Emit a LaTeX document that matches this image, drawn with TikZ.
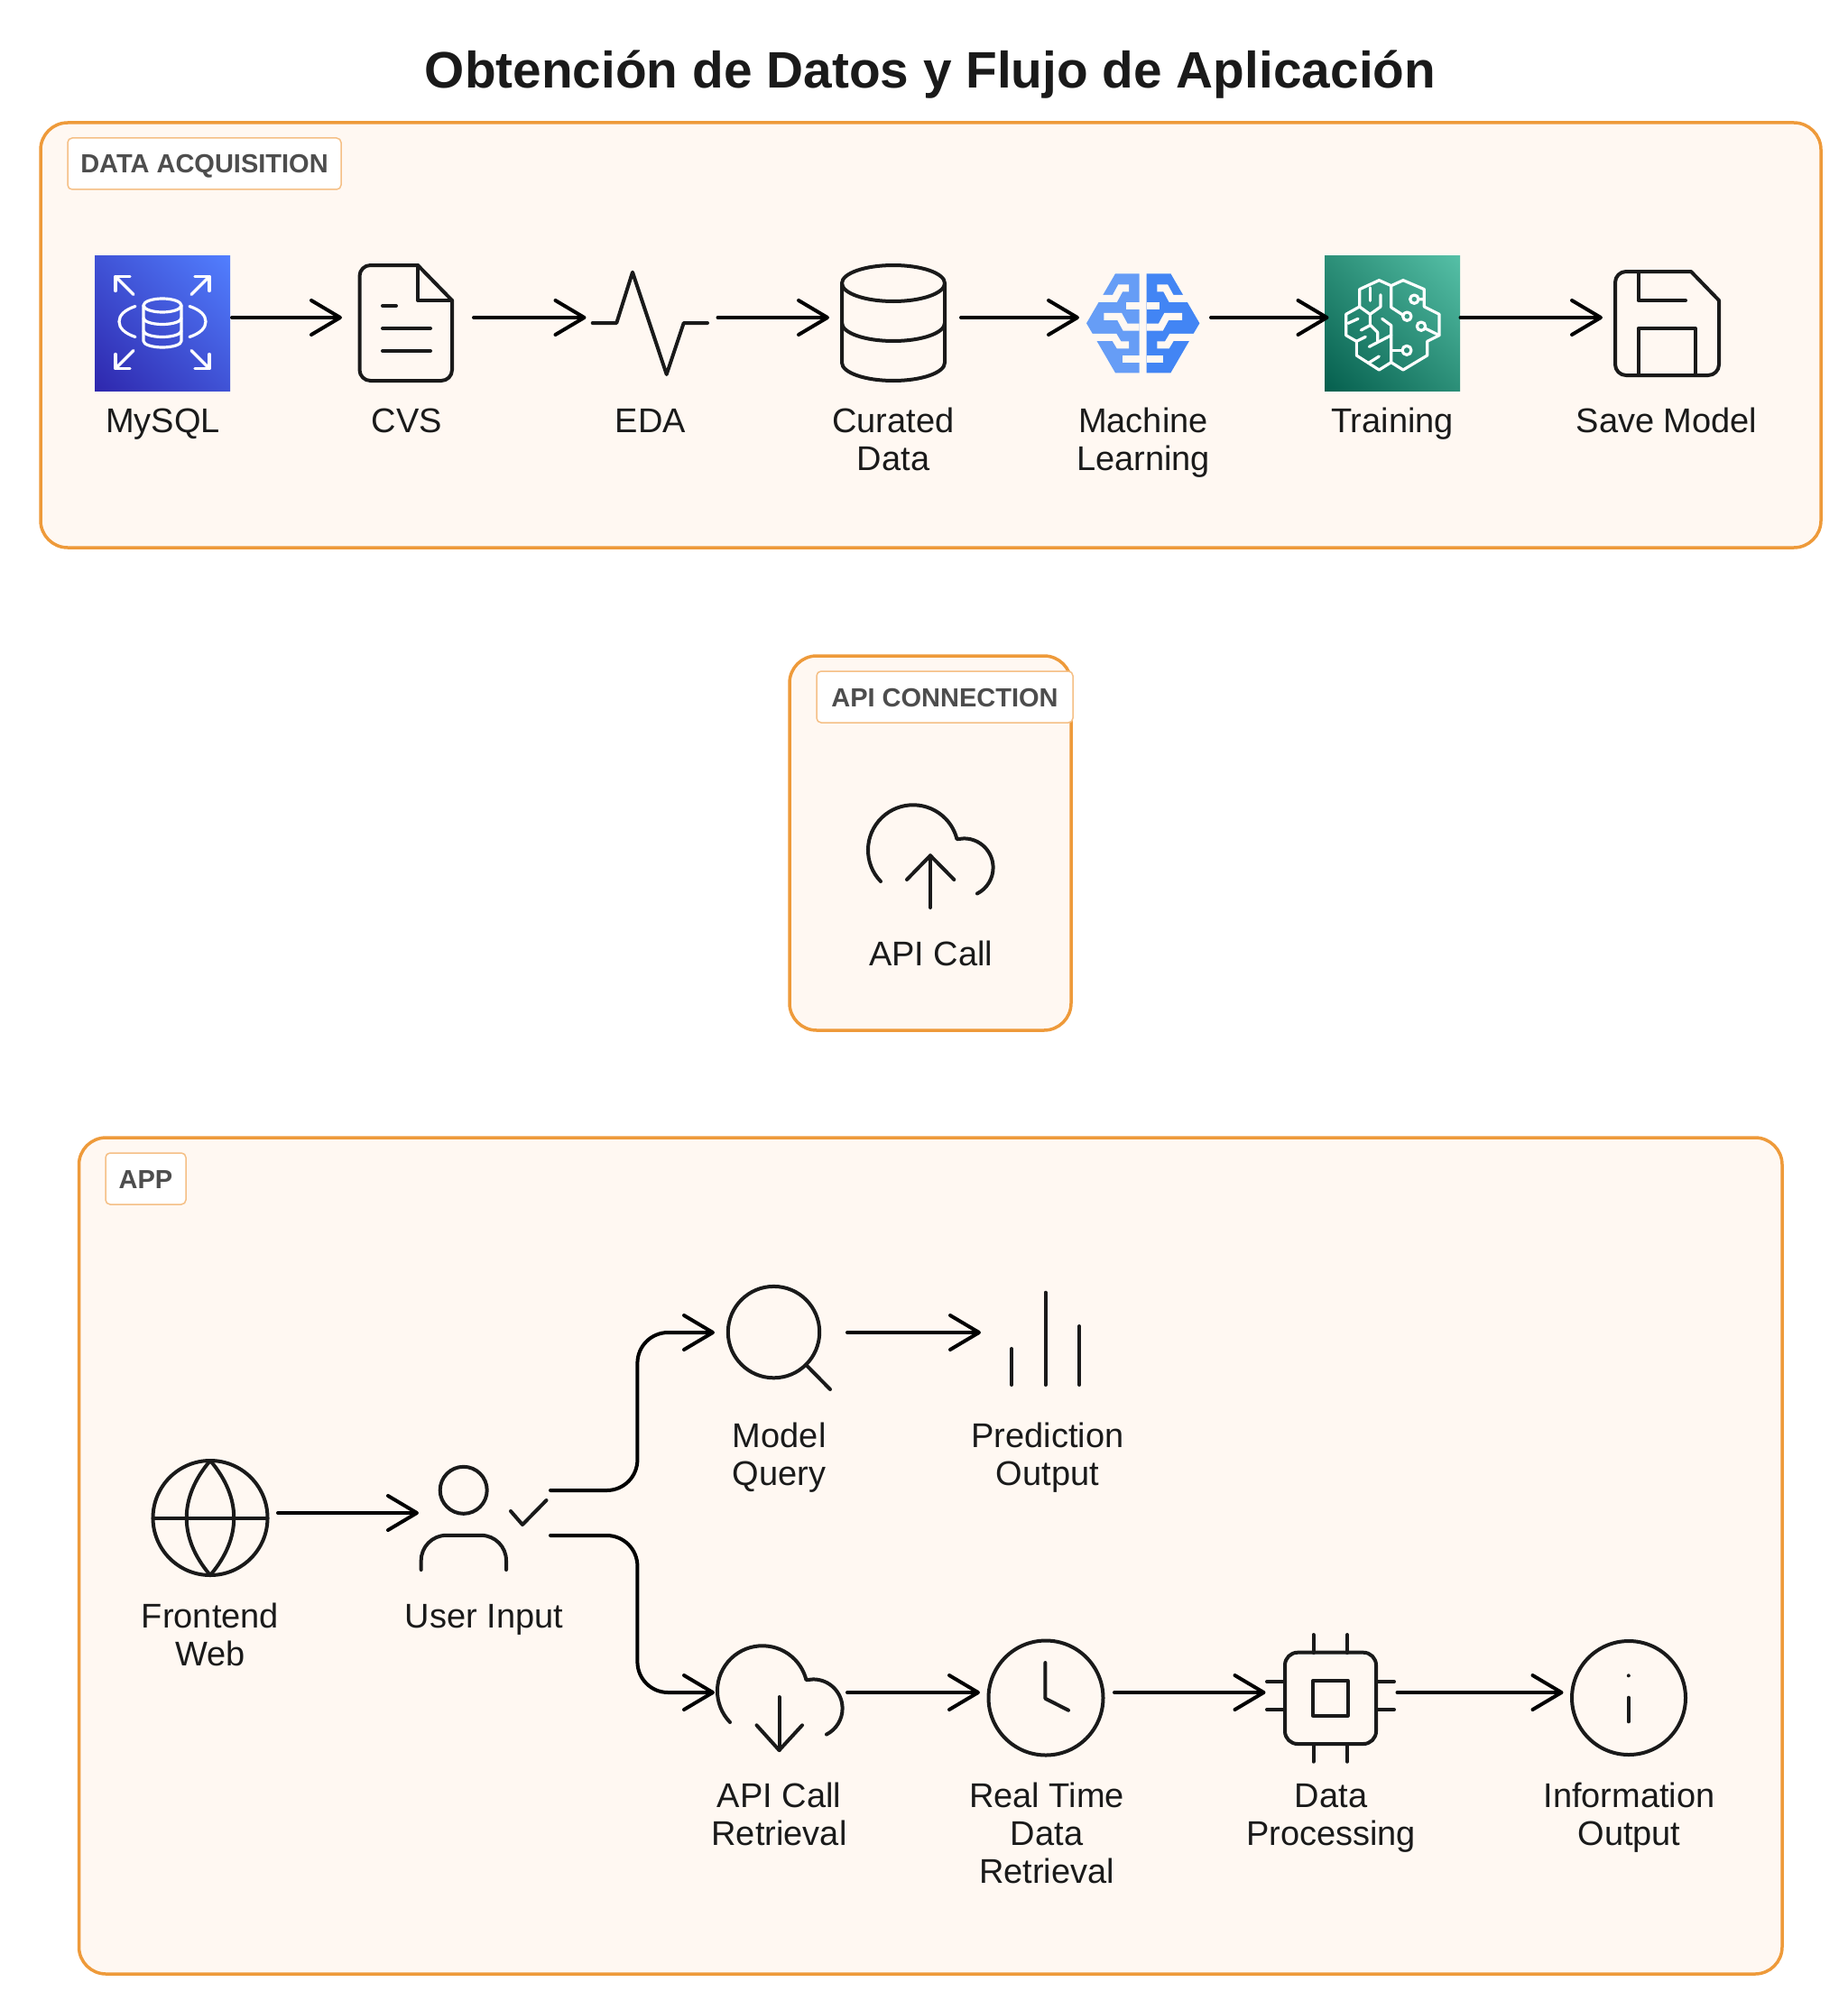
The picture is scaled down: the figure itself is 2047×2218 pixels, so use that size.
\documentclass[tikz,border=0pt]{standalone}
\usepackage{fontspec}
\setmainfont{Liberation Sans}
\usetikzlibrary{arrows.meta,shadings}
\definecolor{boxOrange}{HTML}{EE9A3A}
\definecolor{tagOrange}{HTML}{F5BF85}
\definecolor{boxFill}{HTML}{FFF8F2}
\definecolor{inkBlack}{HTML}{1A1A1A}
\definecolor{tagGray}{HTML}{4D4D4D}
\definecolor{rdsDark}{HTML}{2E27AD}
\definecolor{rdsMid}{HTML}{4053D6}
\definecolor{rdsLight}{HTML}{527FFF}
\definecolor{smDark}{HTML}{055F4E}
\definecolor{smMid}{HTML}{2C8F78}
\definecolor{smLight}{HTML}{56C0A7}
\definecolor{mlLeft}{HTML}{669DF6}
\definecolor{mlRight}{HTML}{4285F4}
\tikzset{group box/.style={draw=boxOrange,fill=boxFill,line width=3.5pt,rounded corners=30pt,inner sep=0pt}}
\tikzset{group tag/.style={draw=tagOrange,fill=white,line width=1.5pt,rounded corners=5pt,text=tagGray,
	font=\fontsize{29}{34}\selectfont\bfseries,minimum height=57pt,inner sep=0pt,text height=21pt,text depth=0pt}}
\tikzset{icon spot/.style={inner sep=0pt,outer sep=0pt,minimum width=146pt,minimum height=2pt}}
\tikzset{step label/.style={font=\fontsize{38}{42}\selectfont,text=inkBlack,align=center,anchor=base,inner sep=0pt}}
\tikzset{flow/.style={draw=black,line width=4pt,line cap=round,line join=round,shorten >=-2pt,shorten <=2pt,
	-{Straight Barb[length=32pt,width=38pt,round]}}}
\tikzset{glyph/.style={draw=inkBlack,line width=4pt,line cap=round,line join=round}}
\tikzset{thin glyph/.style={draw=white,line width=3.2pt,line cap=round,line join=round}}
\tikzset{cloud shell/.pic={
	\draw[glyph] (-35.7,34.7) arc[start angle=136,end angle=346,radius=50] -- (56.6,-12.9)
		arc[start angle=270,end angle=423,radius=32.3];
}}

\begin{document}
\begin{tikzpicture}[x=1pt,y=-1pt]
	\useasboundingbox (0,0) rectangle (2047,2218);
	\node[font=\fontsize{56.8}{60}\selectfont\bfseries,text=inkBlack,anchor=base,inner sep=0pt] (title) at (1031,98) {Obtención de Datos y Flujo de Aplicación};

	% the three groups
	\node[group box,minimum width=1973pt,minimum height=471pt] (acquisition) at (1031.5,371.5) {};
	\node[group box,minimum width=312pt,minimum height=415pt] (connection) at (1031,934.5) {};
	\node[group box,minimum width=1887.5pt,minimum height=927pt] (application) at (1031.25,1724.5) {};
	\node[group tag,minimum width=303pt] (tag_acquisition) at (226.5,181.5) {DATA ACQUISITION};
	\node[group tag,minimum width=284pt] (tag_connection) at (1047,772.5) {API CONNECTION};
	\node[group tag,minimum width=89pt] (tag_application) at (161.5,1306.5) {APP};

	% first row
	\node[icon spot,minimum width=150pt] (mysql) at (180,352) {};
	\node[icon spot] (cvs) at (450,352) {};
	\node[icon spot] (eda) at (720.5,352) {};
	\node[icon spot] (curated) at (990,352) {};
	\node[icon spot] (learning) at (1267,352) {};
	\node[icon spot] (training) at (1543.5,352) {};
	\node[icon spot] (save) at (1847,352) {};

	\shade[lower left=rdsDark,upper right=rdsLight,upper left=rdsMid,lower right=rdsMid] (105,283) rectangle (255,433);
	\begin{scope}[shift={(180,357.5)}]
		\draw[thin glyph] (0,-19) ellipse [x radius=21,y radius=7.5];
		\draw[thin glyph] (-21,-19) -- (-21,20.5) arc[start angle=180,end angle=0,x radius=21,y radius=7] -- (21,-19);
		\draw[thin glyph] (-21,-5) arc[start angle=180,end angle=0,x radius=21,y radius=7];
		\draw[thin glyph] (-21,9) arc[start angle=180,end angle=0,x radius=21,y radius=7];
		\foreach \sx/\sy in {1/1,1/-1,-1/1,-1/-1} {
			\begin{scope}[xscale=\sx,yscale=\sy]
				\draw[thin glyph] (32,-31) -- (52,-51);
				\draw[thin glyph] (52,-35) -- (52,-51) -- (36,-51);
			\end{scope}
		}
		\foreach \sx in {1,-1}
			\draw[thin glyph,xscale=\sx] (30,-18) .. controls (42,-14) and (48,-8) .. (48,-1) .. controls (48,6) and (42,12) .. (30,16);
	\end{scope}

	\draw[glyph] (463,294) [rounded corners=12pt] -- (398.5,294) -- (398.5,422) -- (501,422) [sharp corners] -- (501,333) -- cycle;
	\draw[glyph] (463,294) -- (463,333) -- (501,333);
	\draw[glyph] (424,339) -- (439,339);
	\draw[glyph] (424,364) -- (477,364);
	\draw[glyph] (424,389) -- (477,389);

	\draw[glyph] (656.7,358) -- (683.3,358) -- (701,301.7) -- (738.7,415) -- (757.7,358) -- (784,358);

	\draw[glyph] (990,314) ellipse [x radius=57,y radius=20];
	\draw[glyph] (933,314) -- (933,402) arc[start angle=180,end angle=0,x radius=57,y radius=20] -- (1047,314);
	\draw[glyph] (933,358) arc[start angle=180,end angle=0,x radius=57,y radius=20];

	\foreach \side/\tone in {1/mlLeft,-1/mlRight} {
		\begin{scope}[shift={(1266.7,358.3)},xscale=\side,scale=1/3]
			\fill[\tone] (-92,-165) -- (-12,-165) -- (-12,165) -- (-92,165) -- (-188,0) -- cycle;
			\draw[boxFill,line width=8pt] (-150,-82) -- (-94,-82) -- (-75,-117) -- (-47,-117);
			\draw[boxFill,line width=8pt] (-12,-58) -- (-55,-58);
			\draw[boxFill,line width=8pt] (-130,-22) -- (-78,-22) -- (-59,13) -- (-12,13);
			\draw[boxFill,line width=8pt] (-175,47) -- (-95,47) -- (-80,72) -- (-47,72);
			\draw[boxFill,line width=8pt] (-68,118) -- (-12,118);
		\end{scope}
	}

	\shade[lower left=smDark,upper right=smLight,upper left=smMid,lower right=smMid] (1468,283) rectangle (1618,433);
	\begin{scope}[shift={(1170,270)},scale=1/3]
		\draw[thin glyph] (1075,122) -- (1010,152) -- (1010,210) -- (965,235) -- (965,305) -- (1000,325) -- (1000,372) -- (1075,420)
			-- (1115,395) -- (1155,420) -- (1235,372) -- (1235,325) -- (1275,305) -- (1275,235) -- (1225,210) -- (1225,152) -- (1155,122) -- (1115,140) -- cycle;
		\draw[thin glyph] (1115,140) -- (1115,212) -- (1155,238);
		\draw[thin glyph] (1168,242) circle [radius=14];
		\draw[thin glyph] (1115,395) -- (1115,305) -- (1042,343);
		\draw[thin glyph] (1115,355) -- (1152,355);
		\draw[thin glyph] (1167,355) circle [radius=15];
		\draw[thin glyph] (1192,185) circle [radius=14] (1206,185) -- (1225,185);
		\draw[thin glyph] (1215,275) circle [radius=14] (1228,282) -- (1275,305);
		\draw[thin glyph] (1045,147) -- (1045,190);
		\draw[thin glyph] (1080,170) -- (1080,210) -- (1045,235) -- (1010,210);
		\draw[thin glyph] (1045,235) -- (1045,270) -- (1070,295) -- (1070,325);
		\draw[thin glyph] (1085,250) -- (1115,272) -- (1115,305);
		\draw[thin glyph] (1015,288) -- (1045,272);
		\draw[thin glyph] (972,265) -- (1005,250);
		\draw[thin glyph] (1000,325) -- (1030,310);
		\draw[thin glyph] (1075,375) -- (1040,397);
	\end{scope}

	\draw[glyph] (1874,301) [rounded corners=12pt] -- (1790,301) -- (1790,416) -- (1905,416) [sharp corners] -- (1905,333) -- cycle;
	\draw[glyph] (1815.5,301) -- (1815.5,333) -- (1868,333);
	\draw[glyph] (1815.5,416) -- (1815.5,364) -- (1879,364) -- (1879,416);

	\path (mysql) edge[flow] (cvs);
	\path (cvs) edge[flow] (eda);
	\path (eda) edge[flow] (curated);
	\path (curated) edge[flow] (learning);
	\path (learning) edge[flow] (training);
	\path (training) edge[flow] (save);

	\node[step label] (l_mysql) at (180.5,479) {MySQL};
	\node[step label] (l_cvs) at (451,479) {CVS};
	\node[step label] (l_eda) at (721,479) {EDA};
	\node[step label] (l_curated) at (990,521) {Curated\\Data};
	\node[step label] (l_learning) at (1267,521) {Machine\\Learning};
	\node[step label] (l_training) at (1543,479) {Training};
	\node[step label] (l_save) at (1847,479) {Save Model};

	% api call
	\pic at (1011.7,942.3) {cloud shell};
	\draw[glyph] (1031,1006) -- (1031,948.3);
	\draw[glyph] (1005,975) -- (1031,948.3) -- (1057.3,975);
	\node[step label] (l_apicall) at (1031.7,1070) {API Call};

	% app
	\node[icon spot] (frontend) at (233,1677) {};
	\node[icon spot] (user) at (535,1677) {};
	\node[icon spot,minimum width=147pt] (query) at (863.5,1477) {};
	\node[icon spot,minimum width=147pt] (prediction) at (1158.5,1477) {};
	\node[icon spot,minimum width=147pt] (retrieval) at (863.5,1876) {};
	\node[icon spot,minimum width=149pt] (clock) at (1158.5,1876) {};
	\node[icon spot] (chip) at (1473.5,1876) {};
	\node[icon spot] (info) at (1803.5,1876) {};

	\draw[glyph] (233,1682.5) circle [radius=63.5];
	\draw[glyph] (169.5,1682.5) -- (296.5,1682.5);
	\draw[glyph] (233,1619) .. controls (198,1660) and (198,1705) .. (233,1746);
	\draw[glyph] (233,1619) .. controls (268,1660) and (268,1705) .. (233,1746);

	\draw[glyph] (513.7,1651.8) circle [radius=26];
	\draw[glyph] (466.7,1740) [rounded corners=28pt] -- (466.7,1701.8) -- (561,1701.8) -- (561,1740);
	\draw[glyph] (566,1675) -- (579,1690) -- (605.5,1663);

	\draw[glyph] (857.5,1476.6) circle [radius=50.7];
	\draw[glyph] (894,1513.6) -- (920,1540);

	\draw[glyph] (1121,1495) -- (1121,1535);
	\draw[glyph] (1158.7,1432.7) -- (1158.7,1535);
	\draw[glyph] (1196,1470) -- (1196,1535);

	\pic at (844.7,1874.3) {cloud shell};
	\draw[glyph] (863.5,1881) -- (863.5,1940);
	\draw[glyph] (838.5,1912.3) -- (863.5,1940) -- (889,1912.3);

	\draw[glyph] (1159,1882) circle [radius=63.5];
	\draw[glyph] (1158.4,1843) -- (1158.4,1882.7) -- (1184,1895.7);

	\draw[glyph,rounded corners=14pt] (1424,1831.7) rectangle (1525,1933);
	\draw[glyph] (1455,1863) rectangle (1493.7,1901.7);
	\foreach \pin in {1455.5,1493} {
		\draw[glyph] (\pin,1812) -- (\pin,1832);
		\draw[glyph] (\pin,1933) -- (\pin,1952.7);
	}
	\foreach \pin in {1864,1895} {
		\draw[glyph] (1404,\pin) -- (1424,\pin);
		\draw[glyph] (1525,\pin) -- (1545,\pin);
	}

	\draw[glyph] (1805,1882) circle [radius=63];
	\fill[inkBlack] (1804.8,1857.3) circle [radius=2];
	\draw[glyph] (1804.8,1881.7) -- (1804.8,1908.3);

	\path (frontend) edge[flow] (user);
	\draw[flow,rounded corners=34pt] ([yshift=25pt]user.east) -- ++(98.4,0) |- (query.west);
	\draw[flow,rounded corners=34pt] ([yshift=-25pt]user.east) -- ++(98.4,0) |- (retrieval.west);
	\path (query) edge[flow] (prediction);
	\path (retrieval) edge[flow] (clock);
	\path (clock) edge[flow] (chip);
	\path (chip) edge[flow] (info);

	\node[step label] (l_frontend) at (233,1846) {Frontend\\Web};
	\node[step label] (l_user) at (536.6,1804) {User Input};
	\node[step label] (l_query) at (863.7,1646) {Model\\Query};
	\node[step label] (l_prediction) at (1161,1646) {Prediction\\Output};
	\node[step label] (l_retrieval) at (863.5,2045) {API Call\\Retrieval};
	\node[step label] (l_realtime) at (1160,2087) {Real Time\\Data\\Retrieval};
	\node[step label] (l_processing) at (1475,2045) {Data\\Processing};
	\node[step label] (l_info) at (1805.5,2045) {Information\\Output};
\end{tikzpicture}
\end{document}
